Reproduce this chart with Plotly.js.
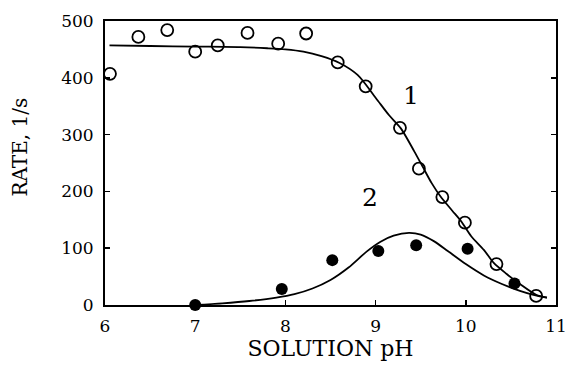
<!DOCTYPE html>
<html>
<head>
<meta charset="utf-8">
<script src="https://cdn.plot.ly/plotly-3.0.1.min.js"></script>
<style>html,body{margin:0;padding:0;background:#fff;}#chart{width:568px;height:365px;}</style>
</head>
<body>
<div id="chart"></div>
<script>
// Measured points, series 1 (open circles)
const ph1 = [6.055, 6.37, 6.69, 7.00, 7.25, 7.58, 7.92, 8.23, 8.58, 8.89, 9.27, 9.48, 9.74, 9.99, 10.34, 10.78];
const rate1 = [407, 472, 484, 446, 457, 479, 460, 478, 427, 385, 312, 240, 190, 145, 72, 16];
// Measured points, series 2 (filled circles)
const ph2 = [7.00, 7.96, 8.52, 9.03, 9.45, 10.02, 10.54];
const rate2 = [0, 28, 79, 95, 105, 99, 38];
// Fitted curve 1
const fitPh1 = [6.05, 6.5, 7.0, 7.5, 7.8, 8.0, 8.2, 8.4, 8.6, 8.8, 9.0, 9.15, 9.28, 9.43, 9.52, 9.62, 9.72, 9.85, 9.95, 10.06, 10.2, 10.31, 10.45, 10.6, 10.78, 10.9];
const fitRate1 = [457, 456, 455, 454, 452, 450, 446, 438, 426, 405, 365, 334, 311, 270, 244, 215, 191, 166, 147, 121, 97, 74, 55, 37, 18, 13];
// Fitted curve 2
const fitPh2 = [7.0, 7.3, 7.6, 7.9, 8.1, 8.3, 8.5, 8.7, 8.9, 9.05, 9.2, 9.37, 9.5, 9.65, 9.8, 10.0, 10.2, 10.4, 10.6, 10.75, 10.9];
const fitRate2 = [0, 3, 7, 13, 19, 29, 44, 66, 94, 111, 122, 127, 124, 112, 95, 72, 52, 37, 25, 18, 13];
// Axis ticks and labels
const xTicks = [6, 7, 8, 9, 10, 11];
const yTicks = [0, 100, 200, 300, 400, 500];
const curveLabels = ['1', '2'];
const curveLabelPh = [9.39, 8.94];
const curveLabelRate = [369, 190];
const xTitle = 'SOLUTION pH';
const yTitle = 'RATE, 1/s';

const F = 'DejaVu Serif, Liberation Serif, serif';

const traces = [
  {x: fitPh1, y: fitRate1, mode: 'lines', line: {color: '#000', width: 1.8, shape: 'spline', smoothing: 0.8}, hoverinfo: 'skip'},
  {x: fitPh2, y: fitRate2, mode: 'lines', line: {color: '#000', width: 1.8, shape: 'spline', smoothing: 0.8}, hoverinfo: 'skip'},
  {x: ph1, y: rate1, mode: 'markers', marker: {symbol: 'circle-open', size: 12, color: '#000', line: {width: 1.8, color: '#000'}}, cliponaxis: false},
  {x: ph2, y: rate2, mode: 'markers', marker: {symbol: 'circle', size: 12, color: '#000'}, cliponaxis: false}
];

const annotations = curveLabels.map((t, i) => ({
  x: curveLabelPh[i], y: curveLabelRate[i], xref: 'x', yref: 'y', text: t, showarrow: false,
  font: {family: F, size: 25, color: '#000'}
}));
annotations.push({
  text: yTitle, xref: 'paper', yref: 'paper', x: -0.188, y: 0.555, textangle: -90,
  showarrow: false, xanchor: 'center', yanchor: 'middle',
  font: {family: F, size: 20, color: '#000'}
});

const layout = {
  width: 568, height: 365,
  margin: {l: 105, r: 12, t: 21, b: 60},
  paper_bgcolor: '#fff', plot_bgcolor: '#fff',
  showlegend: false,
  font: {family: F, color: '#000'},
  xaxis: {
    range: [6, 11], tickvals: xTicks, ticktext: xTicks.map(String),
    showgrid: false, zeroline: false, showline: true, mirror: true,
    linecolor: '#000', linewidth: 2, ticks: 'inside', ticklen: 5, tickwidth: 1.5, tickcolor: '#000',
    tickfont: {family: F, size: 17, color: '#000'}, ticklabelstandoff: 5,
    title: {text: xTitle, font: {family: F, size: 22, color: '#000'}, standoff: 4}
  },
  yaxis: {
    range: [0, 500], tickvals: yTicks, ticktext: yTicks.map(String),
    showgrid: false, zeroline: false, showline: true, mirror: 'ticks',
    linecolor: '#000', linewidth: 2, ticks: 'inside', ticklen: 5, tickwidth: 1.5, tickcolor: '#000',
    tickfont: {family: F, size: 17, color: '#000'}, ticklabelstandoff: 6
  },
  annotations: annotations
};

Plotly.newPlot('chart', traces, layout, {staticPlot: true, displayModeBar: false});
</script>
</body>
</html>
